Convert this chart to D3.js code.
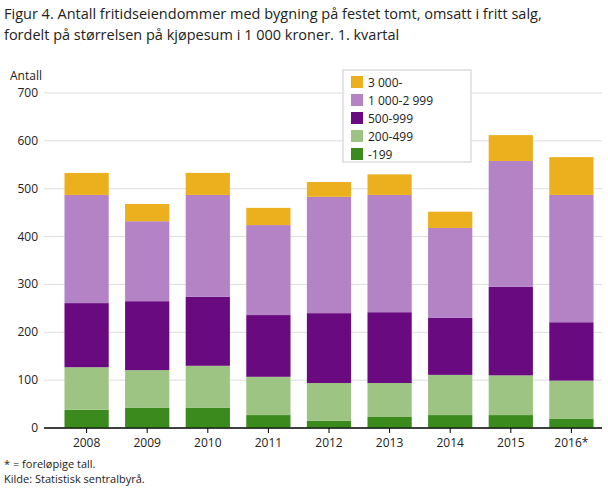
<!DOCTYPE html><html><head><meta charset="utf-8"><script src="https://cdn.jsdelivr.net/npm/d3@7"></script>
<style>body{margin:0;background:#fff;font-family:"Open Sans",sans-serif}</style></head><body><svg id="c" width="608" height="489"></svg><script>
const years=["2008","2009","2010","2011","2012","2013","2014","2015","2016*"];
const seriesNames=["-199","200-499","500-999","1 000-2 999","3 000-"];
const colors=["#3a8a1e","#9dc483","#6a0a80","#b383c6","#ecb01f"];
const v199=[38,42,42,27,15,23,27,27,19];
const v200=[89,79,88,80,79,71,84,83,80];
const v500=[134,144,144,129,146,148,119,185,122];
const v1000=[226,167,213,188,243,245,188,263,266];
const v3000=[46,36,46,36,31,43,34,54,79];
const yTicks=[0,100,200,300,400,500,600,700];
const data=[v199,v200,v500,v1000,v3000];
const svg=d3.select("#c");
svg.append("text").attr("x",4).attr("y",19).attr("font-size",14.5).attr("fill","#222").text("Figur 4. Antall fritidseiendommer med bygning på festet tomt, omsatt i fritt salg,");
svg.append("text").attr("x",4).attr("y",40).attr("font-size",14.5).attr("fill","#222").text("fordelt på størrelsen på kjøpesum i 1 000 kroner. 1. kvartal");
const x=d3.scaleBand().domain(years).range([56,602]).paddingInner(0.27).paddingOuter(0.14);
const y=d3.scaleLinear().domain([0,700]).range([428,93]);
svg.append("text").attr("x",10).attr("y",80).attr("font-size",12).attr("fill","#222").text("Antall");
yTicks.forEach(t=>{
 svg.append("line").attr("x1",44).attr("x2",602).attr("y1",y(t)).attr("y2",y(t)).attr("stroke",t==0?"#000":"#ddd");
 svg.append("text").attr("x",38).attr("y",y(t)+4).attr("text-anchor","end").attr("font-size",12).attr("fill","#222").text(t);
});
const stack=d3.stack().keys(d3.range(5))(years.map((yr,i)=>data.map(s=>s[i])));
stack.forEach((layer,k)=>{
 svg.append("g").selectAll("rect").data(layer).join("rect")
 .attr("x",(d,i)=>x(years[i])).attr("width",x.bandwidth())
 .attr("y",d=>y(d[1])).attr("height",d=>y(d[0])-y(d[1])).attr("fill",colors[k]);
});
svg.append("line").attr("x1",44).attr("x2",602).attr("y1",428).attr("y2",428).attr("stroke","#000");
years.forEach(yr=>{
 const cx=x(yr)+x.bandwidth()/2;
 svg.append("line").attr("x1",cx).attr("x2",cx).attr("y1",428).attr("y2",433).attr("stroke","#000");
 svg.append("text").attr("x",cx).attr("y",447).attr("text-anchor","middle").attr("font-size",12).attr("fill","#222").text(yr);
});
const lg=svg.append("g");
lg.append("rect").attr("x",343).attr("y",70).attr("width",128).attr("height",92).attr("fill","#fff").attr("stroke","#ccc");
seriesNames.slice().reverse().forEach((n,i)=>{
 const yy=76+i*18;
 lg.append("rect").attr("x",351).attr("y",yy).attr("width",12).attr("height",12).attr("fill",colors[4-i]);
 lg.append("text").attr("x",368).attr("y",yy+11).attr("font-size",12).attr("fill","#222").text(n);
});
svg.append("text").attr("x",4).attr("y",468).attr("font-size",11).attr("fill","#222").text("* = foreløpige tall.");
svg.append("text").attr("x",4).attr("y",483).attr("font-size",11).attr("fill","#222").text("Kilde: Statistisk sentralbyrå.");
</script></body></html>
